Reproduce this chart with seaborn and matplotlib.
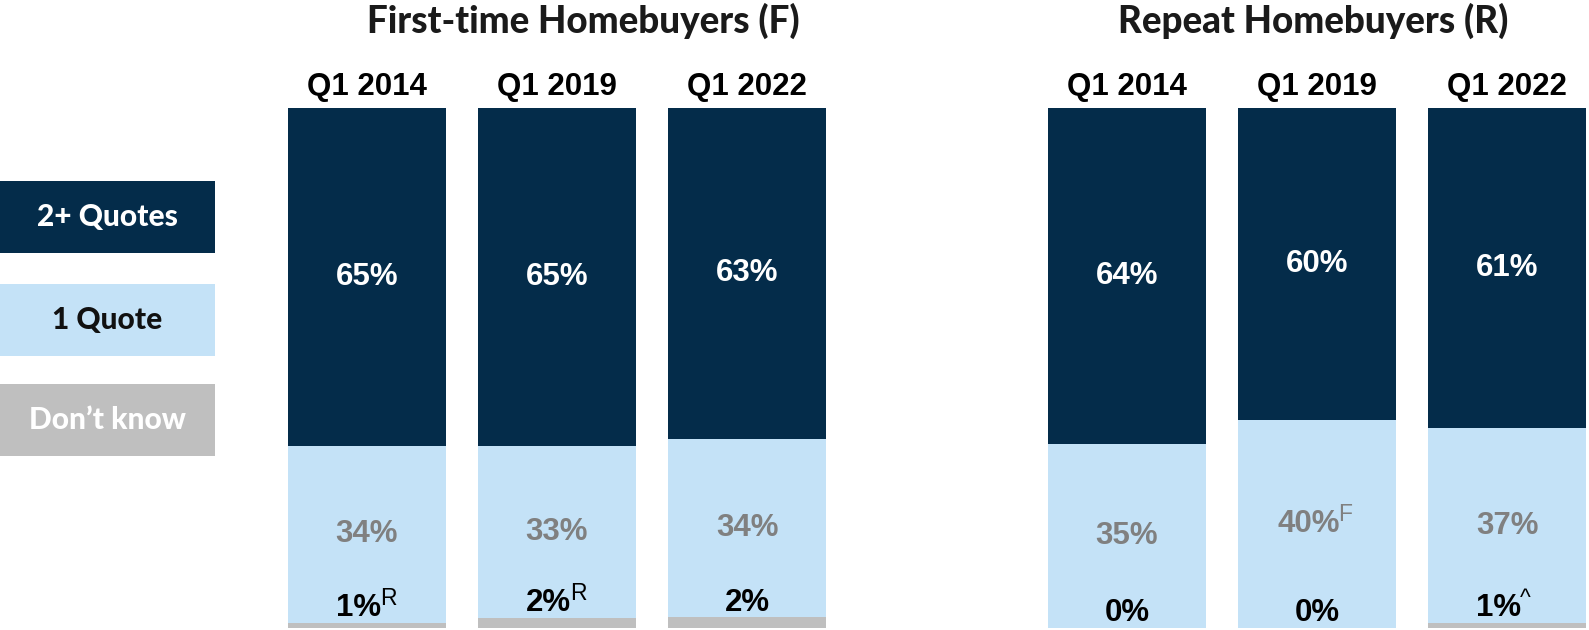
import numpy as np
import pandas as pd
import matplotlib
matplotlib.use('Agg')
import matplotlib.pyplot as plt
import seaborn as sns
from matplotlib.patches import Rectangle

sns.set_theme(style='white')
plt.rcParams['font.family'] = ['Liberation Sans', 'DejaVu Sans']

# Data
periods = ['Q1 2014', 'Q1 2019', 'Q1 2022']

first_multi = [65, 65, 63]
first_one = [34, 33, 34]
first_dk = [1, 2, 2]
first_one_notes = ['', '', '']
first_dk_notes = ['R', 'R', '']

repeat_multi = [64, 60, 61]
repeat_one = [35, 40, 37]
repeat_dk = [0, 0, 1]
repeat_one_notes = ['', 'F', '']
repeat_dk_notes = ['', '', '^']

panel_titles = ['First-time Homebuyers (F)', 'Repeat Homebuyers (R)']
legend_labels = ['2+ Quotes', '1 Quote', 'Don\u2019t know']

DARK = '#042c4a'
LIGHT = '#c4e2f7'
GREY = '#bfbfbf'
LABEL_GREY = '#808080'
TITLE_FONT = ['Lato', 'DejaVu Sans']

W, H = 1589, 630
fig = plt.figure(figsize=(W / 100, H / 100), dpi=100)


def stacked_panel(ax, multi, one, dk, one_notes, dk_notes):
    df = pd.DataFrame({'period': periods, 'multi': multi, 'one': one, 'dk': dk})
    total = df[['multi', 'one', 'dk']].sum(axis=1)
    # 100% stacked bars
    df['dk_s'] = df['dk'] / total * 100
    df['one_s'] = df['one'] / total * 100
    df['multi_s'] = df['multi'] / total * 100
    df['top'] = df['dk_s'] + df['one_s'] + df['multi_s']
    df['mid'] = df['dk_s'] + df['one_s']

    sns.barplot(data=df, x='period', y='top', color=DARK, width=0.83,
                saturation=1, ax=ax, linewidth=0)
    sns.barplot(data=df, x='period', y='mid', color=LIGHT, width=0.83,
                saturation=1, ax=ax, linewidth=0)
    sns.barplot(data=df, x='period', y='dk_s', color=GREY, width=0.83,
                saturation=1, ax=ax, linewidth=0)

    for i, r in df.iterrows():
        ax.text(i, r['mid'] + r['multi_s'] / 2, f"{r['multi']}%", ha='center',
                va='center', color='white', fontsize=22.5, fontweight='bold')
        for val, y, note, col in [(r['one'], r['dk_s'] + r['one_s'] / 2, one_notes[i], LABEL_GREY),
                                  (r['dk'], r['dk_s'] + 2.8, dk_notes[i], 'black')]:
            shift = -6 if note else 0
            t = ax.annotate(f"{val}%", xy=(i, y), xytext=(shift, 0),
                            textcoords='offset points', ha='center', va='center',
                            color=col, fontsize=22.5, fontweight='bold',
                            annotation_clip=False)
            if note:
                ax.annotate(note, xy=(1.0, 0.82), xycoords=t, xytext=(-1, 0),
                            textcoords='offset points', ha='left', va='center',
                            color=col, fontsize=16.5)

    ax.set_xlim(-0.415, 2.415)
    ax.set_ylim(0, 100)
    ax.xaxis.tick_top()
    ax.tick_params(axis='x', length=0, pad=4, labelsize=22.5)
    for lab in ax.get_xticklabels():
        lab.set_fontweight('bold')
        lab.set_color('black')
    ax.set_yticks([])
    ax.set_xlabel('')
    ax.set_ylabel('')
    sns.despine(ax=ax, left=True, bottom=True)


ax_f = fig.add_axes([288 / W, 1 - 628 / H, 538 / W, 520 / H])
ax_r = fig.add_axes([1048 / W, 1 - 628 / H, 538 / W, 520 / H])
for ax in (ax_f, ax_r):
    ax.patch.set_alpha(0)

stacked_panel(ax_f, first_multi, first_one, first_dk, first_one_notes, first_dk_notes)
stacked_panel(ax_r, repeat_multi, repeat_one, repeat_dk, repeat_one_notes, repeat_dk_notes)

fig.text(583 / W, 1 - 21 / H, panel_titles[0], ha='center', va='center',
         fontsize=26.5, fontweight='black', family=TITLE_FONT, color='#1a1a1a')
fig.text(1313 / W, 1 - 21 / H, panel_titles[1], ha='center', va='center',
         fontsize=26.5, fontweight='black', family=TITLE_FONT, color='#1a1a1a')

# legend boxes
ax_leg = fig.add_axes([0, 0, 215 / W, 1])
ax_leg.set_xlim(0, 1)
ax_leg.set_ylim(H, 0)
ax_leg.axis('off')
box_tops = [181, 284, 384]
box_cols = [DARK, LIGHT, GREY]
text_cols = ['white', '#111111', 'white']
for top, bc, tc, lab in zip(box_tops, box_cols, text_cols, legend_labels):
    ax_leg.add_patch(Rectangle((0, top), 1, 72, color=bc, lw=0))
    ax_leg.text(0.5, top + 36, lab, ha='center', va='center', color=tc,
                fontsize=21.5, fontweight='black', family=TITLE_FONT)

fig.savefig('out.png', dpi=100)
